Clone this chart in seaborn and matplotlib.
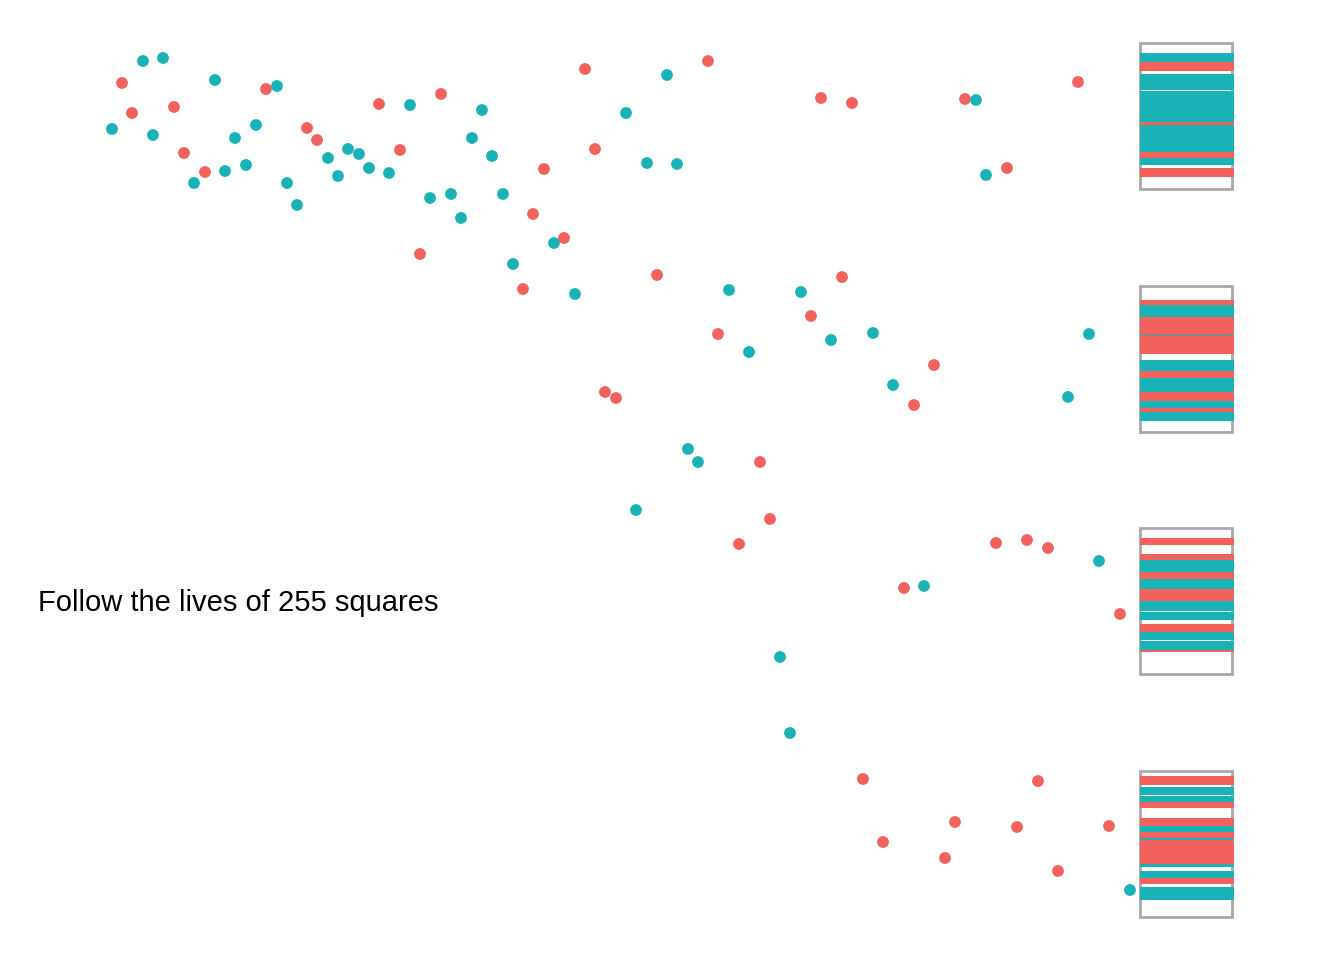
import pandas as pd
import matplotlib.pyplot as plt
import seaborn as sns
from matplotlib.patches import Rectangle

# square positions (pixel-like units, y grows downward)
red_x = [122, 132, 174, 184, 205, 266, 307, 317, 379, 400, 420, 441, 523, 533, 544, 564,
         585, 595, 605, 616, 657, 708, 718, 739, 760, 770, 811, 821, 842, 852, 863, 883,
         904, 914, 934, 945, 955, 965, 996, 1007, 1017, 1027, 1038, 1048, 1058, 1078, 1109, 1120]
red_y = [83, 113, 107, 153, 172, 89, 128, 140, 104, 150, 254, 94, 289, 214, 169, 238,
         69, 149, 392, 398, 275, 61, 334, 544, 462, 519, 316, 98, 277, 103, 779, 842,
         588, 405, 365, 858, 822, 99, 543, 168, 827, 540, 781, 548, 871, 82, 826, 614]

teal_x = [112, 143, 153, 163, 194, 215, 225, 235, 246, 256, 277, 287, 297, 328, 338, 348,
          359, 369, 389, 410, 430, 451, 461, 472, 482, 492, 503, 513, 554, 575, 626, 636,
          647, 667, 677, 688, 698, 729, 749, 780, 790, 801, 831, 873, 893, 924, 976, 986,
          1068, 1089, 1099, 1130]
teal_y = [129, 61, 135, 58, 183, 80, 171, 138, 165, 125, 86, 183, 205, 158, 176, 149,
          154, 168, 173, 105, 198, 194, 218, 138, 110, 156, 194, 264, 243, 294, 113, 510,
          163, 75, 164, 449, 462, 290, 352, 657, 733, 292, 340, 333, 385, 586, 100, 175,
          397, 334, 561, 890]

# stacked squares inside the four bins: band start, band end, group
band_y0 = [53, 62, 74, 91, 122, 124.5, 152, 158, 168,
           300, 304.5, 317, 334.5, 336, 360, 370.5, 378, 392, 400.5, 408, 411.5,
           537.5, 554, 560, 572, 579, 588.5, 601, 611.5, 624, 631.5, 640.5, 650,
           776, 786.5, 795.5, 801.5, 818, 826, 832, 838, 840, 863.5, 871, 878, 887]
band_y1 = [62, 71, 89.5, 122, 124.5, 152, 158, 165, 177,
           304.5, 317, 334.5, 336, 353.5, 370.5, 378, 392, 400.5, 408, 411.5, 421,
           545, 560, 572, 579, 588.5, 601, 611, 620, 631.5, 640, 650, 651.5,
           785, 795, 801.5, 808, 826, 832, 838, 840, 863.5, 867, 878, 883.5, 900]
band_grp = ['b', 'a', 'b', 'b', 'a', 'b', 'a', 'b', 'a',
            'a', 'b', 'a', 'b', 'a', 'b', 'a', 'b', 'a', 'b', 'a', 'b',
            'a', 'a', 'b', 'a', 'b', 'a', 'b', 'b', 'a', 'b', 'b', 'a',
            'a', 'b', 'b', 'a', 'a', 'b', 'a', 'b', 'a', 'b', 'b', 'a', 'b']

bin_tops = [43, 286, 528, 771]
bin_height = 146

palette = {'a': '#F2615B', 'b': '#19B3B7'}

pts = pd.DataFrame({
    'x': red_x + teal_x,
    'y': red_y + teal_y,
    'grp': ['a'] * len(red_x) + ['b'] * len(teal_x),
}).sort_values('x')

bands = pd.DataFrame({'y0': band_y0, 'y1': band_y1, 'grp': band_grp})

sns.set_theme(style="white")
fig = plt.figure(figsize=(13.44, 9.6), dpi=100)
ax = fig.add_axes([0, 0, 1, 1])

for top in bin_tops:
    ax.add_patch(Rectangle((1140, top), 92, bin_height, fill=False,
                           edgecolor='#A8A8A8', linewidth=2.0, zorder=1))

ax.barh(y=(bands['y0'] + bands['y1']) / 2, width=94, height=bands['y1'] - bands['y0'],
        left=1140, color=bands['grp'].map(palette), linewidth=0, zorder=2)

sns.scatterplot(data=pts, x='x', y='y', hue='grp', palette=palette, s=72,
                linewidth=0, legend=False, ax=ax, zorder=3)

ax.text(38, 611, 'Follow the lives of 255 squares', fontsize=21,
        family=['Liberation Sans', 'DejaVu Sans'], color='black', va='baseline', ha='left')

ax.set_xlim(0, 1344)
ax.set_ylim(960, 0)
ax.axis('off')

fig.savefig('out.png', dpi=100, facecolor='white')
